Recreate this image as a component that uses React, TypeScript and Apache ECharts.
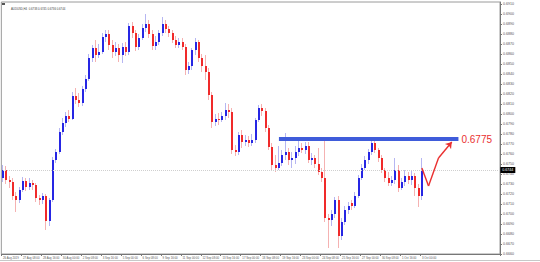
import React, { useEffect, useRef } from "react";
import * as echarts from "echarts";

const symbolTitle = "AUDUSD,H4  0.6738 0.6745 0.6736 0.6744";

const openPrices = [
  0.6736, 0.6744, 0.6734, 0.6732, 0.6718, 0.6714, 0.6724, 0.6733, 0.6727, 0.6731,
  0.6729, 0.6716, 0.6714, 0.6718, 0.6693, 0.6714, 0.6754, 0.6762, 0.6782, 0.6791,
  0.6798, 0.6795, 0.6818, 0.6814, 0.6811, 0.6825, 0.6835, 0.6856, 0.6866, 0.6859,
  0.6862, 0.6877, 0.6880, 0.6869, 0.6862, 0.6866, 0.6859, 0.6867, 0.6862, 0.6888,
  0.6881, 0.6867, 0.6876, 0.6886, 0.6890, 0.6880, 0.6868, 0.6872, 0.6881, 0.6890,
  0.6885, 0.6881, 0.6874, 0.6869, 0.6872, 0.6867, 0.6844, 0.6848, 0.6864, 0.6872,
  0.6856, 0.6848, 0.6842, 0.6819, 0.6792, 0.6795, 0.6794, 0.6798, 0.6804, 0.6802,
  0.6764, 0.6762, 0.6779, 0.6772, 0.6774, 0.6771, 0.6774, 0.6794, 0.6806, 0.6803,
  0.6786, 0.6767, 0.6749, 0.6746, 0.6751, 0.6759, 0.6762, 0.6754, 0.6756, 0.6762,
  0.6766, 0.6764, 0.6768, 0.6754, 0.6756, 0.6750, 0.6742, 0.6736, 0.6696, 0.6694,
  0.6700, 0.6714, 0.6678, 0.6692, 0.6704, 0.6711, 0.6708, 0.6718, 0.6736, 0.6746,
  0.6754, 0.6762, 0.6771, 0.6764, 0.6756, 0.6744, 0.6736, 0.6731, 0.6734, 0.6744,
  0.6726, 0.6732, 0.6738, 0.6734, 0.6738, 0.6726, 0.6718,
];

const closePrices = [
  0.6744, 0.6734, 0.6732, 0.6718, 0.6714, 0.6724, 0.6733, 0.6727, 0.6731, 0.6729,
  0.6716, 0.6714, 0.6718, 0.6693, 0.6714, 0.6754, 0.6762, 0.6782, 0.6791, 0.6798,
  0.6795, 0.6818, 0.6814, 0.6811, 0.6825, 0.6835, 0.6856, 0.6866, 0.6859, 0.6862,
  0.6877, 0.6880, 0.6869, 0.6862, 0.6866, 0.6859, 0.6867, 0.6862, 0.6888, 0.6881,
  0.6867, 0.6876, 0.6886, 0.6890, 0.6880, 0.6868, 0.6872, 0.6881, 0.6890, 0.6885,
  0.6881, 0.6874, 0.6869, 0.6872, 0.6867, 0.6844, 0.6848, 0.6864, 0.6872, 0.6856,
  0.6848, 0.6842, 0.6819, 0.6792, 0.6795, 0.6794, 0.6798, 0.6804, 0.6802, 0.6764,
  0.6762, 0.6779, 0.6772, 0.6774, 0.6771, 0.6774, 0.6794, 0.6806, 0.6803, 0.6786,
  0.6767, 0.6749, 0.6746, 0.6751, 0.6759, 0.6762, 0.6754, 0.6756, 0.6762, 0.6766,
  0.6764, 0.6768, 0.6754, 0.6756, 0.6750, 0.6742, 0.6736, 0.6696, 0.6694, 0.6700,
  0.6714, 0.6678, 0.6692, 0.6704, 0.6708, 0.6708, 0.6718, 0.6736, 0.6746, 0.6754,
  0.6762, 0.6771, 0.6764, 0.6756, 0.6744, 0.6736, 0.6731, 0.6734, 0.6744, 0.6726,
  0.6732, 0.6738, 0.6734, 0.6738, 0.6726, 0.6718, 0.6744,
];

const highPrices = [
  0.6749, 0.6748, 0.6738, 0.6736, 0.6722, 0.6727, 0.6737, 0.6736, 0.6736, 0.6734,
  0.6731, 0.6719, 0.6721, 0.6720, 0.6716, 0.6757, 0.6765, 0.6786, 0.6796, 0.6802,
  0.6804, 0.6822, 0.6826, 0.6821, 0.6828, 0.6839, 0.6860, 0.6869, 0.6874, 0.6870,
  0.6881, 0.6884, 0.6884, 0.6874, 0.6872, 0.6870, 0.6871, 0.6872, 0.6891, 0.6892,
  0.6884, 0.6880, 0.6890, 0.6900, 0.6894, 0.6884, 0.6878, 0.6884, 0.6897, 0.6894,
  0.6888, 0.6884, 0.6878, 0.6876, 0.6876, 0.6870, 0.6852, 0.6866, 0.6876, 0.6874,
  0.6860, 0.6859, 0.6846, 0.6822, 0.6800, 0.6801, 0.6802, 0.6811, 0.6810, 0.6806,
  0.6769, 0.6782, 0.6784, 0.6779, 0.6778, 0.6780, 0.6796, 0.6809, 0.6810, 0.6806,
  0.6789, 0.6771, 0.6759, 0.6768, 0.6764, 0.6781, 0.6766, 0.6762, 0.6768, 0.6774,
  0.6771, 0.6772, 0.6772, 0.6761, 0.6759, 0.6766, 0.6746, 0.6774, 0.6700, 0.6704,
  0.6717, 0.6718, 0.6696, 0.6708, 0.6712, 0.6714, 0.6722, 0.6739, 0.6750, 0.6758,
  0.6765, 0.6774, 0.6773, 0.6766, 0.6759, 0.6746, 0.6742, 0.6738, 0.6756, 0.6749,
  0.6736, 0.6744, 0.6742, 0.6744, 0.6741, 0.6730, 0.6756,
];

const lowPrices = [
  0.6732, 0.6730, 0.6726, 0.6714, 0.6702, 0.6711, 0.6722, 0.6723, 0.6724, 0.6724,
  0.6712, 0.6709, 0.6710, 0.6684, 0.6688, 0.6712, 0.6751, 0.6760, 0.6779, 0.6787,
  0.6792, 0.6794, 0.6810, 0.6807, 0.6808, 0.6822, 0.6833, 0.6852, 0.6852, 0.6856,
  0.6860, 0.6872, 0.6864, 0.6856, 0.6858, 0.6852, 0.6851, 0.6858, 0.6859, 0.6876,
  0.6863, 0.6864, 0.6874, 0.6882, 0.6876, 0.6864, 0.6864, 0.6869, 0.6878, 0.6881,
  0.6877, 0.6871, 0.6866, 0.6866, 0.6864, 0.6839, 0.6840, 0.6844, 0.6859, 0.6852,
  0.6842, 0.6834, 0.6814, 0.6786, 0.6788, 0.6789, 0.6792, 0.6794, 0.6796, 0.6760,
  0.6758, 0.6759, 0.6766, 0.6768, 0.6767, 0.6768, 0.6771, 0.6792, 0.6798, 0.6782,
  0.6764, 0.6744, 0.6742, 0.6744, 0.6748, 0.6754, 0.6749, 0.6746, 0.6750, 0.6758,
  0.6761, 0.6760, 0.6751, 0.6749, 0.6746, 0.6739, 0.6732, 0.6692, 0.6666, 0.6688,
  0.6696, 0.6666, 0.6674, 0.6689, 0.6700, 0.6704, 0.6706, 0.6716, 0.6734, 0.6744,
  0.6750, 0.6759, 0.6761, 0.6752, 0.6741, 0.6732, 0.6728, 0.6728, 0.6730, 0.6722,
  0.6724, 0.6728, 0.6730, 0.6729, 0.6718, 0.6707, 0.6714,
];

const totalSlots = 150;
const xTickLabels = [
  "26 Aug 2019", "27 Aug 08:00", "28 Aug 16:00", "30 Aug 00:00", "2 Sep 08:00",
  "3 Sep 16:00", "5 Sep 00:00", "6 Sep 08:00", "9 Sep 16:00", "11 Sep 00:00",
  "12 Sep 08:00", "13 Sep 16:00", "17 Sep 00:00", "18 Sep 08:00", "19 Sep 16:00",
  "23 Sep 00:00", "24 Sep 08:00", "25 Sep 16:00", "27 Sep 00:00", "30 Sep 08:00",
  "1 Oct 16:00", "3 Oct 00:00",
];
const labelEvery = 6;

const yMin = 0.666;
const yMax = 0.6912;
const yStep = 0.001;

const resistanceLevel = 0.6775;
const resistanceFrom = 83;
const resistanceTo = 137;
const bidPrice = 0.6744;
const arrowPath: [number, number][] = [
  [125.7, 0.6746],
  [127.8, 0.6728],
  [130.5, 0.6756],
  [134.7, 0.6772],
];

const BULL = "#2626e4";
const BEAR = "#f02a2a";
const BULL_WICK = "#b6b6f2";
const BEAR_WICK = "#f5b2b2";
const RED = "#ea3030";
const BAND = "#3f5cda";
const FONT = "Liberation Sans, Arial, sans-serif";

export default function App() {
  const ref = useRef<HTMLDivElement>(null);

  useEffect(() => {
    if (!ref.current) return;
    const chart = echarts.init(ref.current, undefined, { renderer: "svg" });

    const categories = Array.from({ length: totalSlots }, (_, i) => String(i));
    const candleData = openPrices.map((o, i) => [
      i,
      o,
      closePrices[i],
      lowPrices[i],
      highPrices[i],
    ]);
    const showLabel = (idx: number) =>
      idx % labelEvery === 0 && idx / labelEvery < xTickLabels.length;

    const arrowSegments = arrowPath.slice(0, -1).map((p, k) => [
      {
        coord: p,
        symbol: "none",
        lineStyle: { color: RED, width: 1.4, type: "solid" },
        label: { show: false },
      },
      {
        coord: arrowPath[k + 1],
        symbol: k === arrowPath.length - 2 ? "arrow" : "none",
        symbolSize: 6,
      },
    ]);

    chart.setOption({
      animation: false,
      backgroundColor: "#ffffff",
      title: {
        text: symbolTitle,
        left: 6,
        top: 2.5,
        textStyle: { fontSize: 2.8, color: "#444", fontWeight: "normal", fontFamily: FONT },
      },
      graphic: [
        {
          type: "rect",
          shape: { x: 2, y: 3, width: 3, height: 2 },
          style: { fill: "#555" },
        },
        {
          type: "rect",
          shape: { x: 0, y: 260, width: 540, height: 1 },
          style: { fill: "#c8c8c8" },
        },
      ],
      grid: {
        left: 1,
        right: 40,
        top: 2,
        bottom: 8,
        show: true,
        borderColor: "#9a9a9a",
        borderWidth: 1,
      },
      xAxis: {
        type: "category",
        data: categories,
        boundaryGap: true,
        axisLine: { show: true, lineStyle: { color: "#777", width: 1 } },
        axisTick: {
          show: true,
          interval: showLabel,
          length: 2,
          lineStyle: { color: "#777" },
        },
        axisLabel: {
          interval: showLabel,
          fontSize: 2.8,
          color: "#555",
          margin: 2,
          align: "left",
          fontFamily: FONT,
          formatter: (_v: string, idx: number) => xTickLabels[idx / labelEvery] ?? "",
        },
        splitLine: { show: false },
      },
      yAxis: {
        type: "value",
        position: "right",
        min: yMin,
        max: yMax,
        interval: yStep,
        axisLine: { show: true, lineStyle: { color: "#777", width: 1 } },
        axisTick: { show: true, length: 2, lineStyle: { color: "#777" } },
        axisLabel: {
          fontSize: 3.6,
          color: "#555",
          margin: 3,
          fontFamily: FONT,
          formatter: (v: number) => v.toFixed(4),
        },
        splitLine: { show: false },
      },
      series: [
        {
          type: "custom",
          encode: { x: 0, y: [1, 2, 3, 4] },
          data: candleData,
          renderItem: (_params: any, api: any) => {
            const i = api.value(0);
            const o = api.value(1);
            const c = api.value(2);
            const l = api.value(3);
            const h = api.value(4);
            const pO = api.coord([i, o]);
            const pC = api.coord([i, c]);
            const pL = api.coord([i, l]);
            const pH = api.coord([i, h]);
            const cx = Math.round(pO[0]);
            const up = c >= o;
            const top = Math.min(pO[1], pC[1]);
            const bot = Math.max(pO[1], pC[1]);
            return {
              type: "group",
              children: [
                {
                  type: "line",
                  shape: { x1: cx - 0.5, y1: pH[1], x2: cx - 0.5, y2: pL[1] },
                  style: { stroke: up ? BULL_WICK : BEAR_WICK, lineWidth: 1 },
                },
                {
                  type: "rect",
                  shape: { x: cx - 1, y: top, width: 2, height: Math.max(1, bot - top) },
                  style: { fill: up ? BULL : BEAR },
                },
              ],
            };
          },
          markLine: {
            silent: true,
            animation: false,
            symbol: "none",
            data: [
              [
                {
                  coord: [0, bidPrice],
                  symbol: "none",
                  lineStyle: { color: "#cfcfcf", type: [1, 1], width: 1 },
                  label: {
                    show: true,
                    position: "end",
                    distance: 2,
                    formatter: bidPrice.toFixed(4),
                    backgroundColor: "#000",
                    color: "#fff",
                    fontSize: 3.6,
                    padding: [1, 2],
                    fontFamily: FONT,
                  },
                },
                { coord: [totalSlots - 1, bidPrice], symbol: "none" },
              ],
              [
                {
                  coord: [resistanceFrom, resistanceLevel],
                  symbol: "none",
                  lineStyle: { color: BAND, width: 4, type: "solid" },
                  label: {
                    show: true,
                    position: "end",
                    distance: 3,
                    formatter: resistanceLevel.toFixed(4),
                    color: RED,
                    fontSize: 10,
                    fontFamily: FONT,
                  },
                },
                { coord: [resistanceTo, resistanceLevel], symbol: "none" },
              ],
              ...arrowSegments,
            ],
          },
        },
      ],
    });

    return () => chart.dispose();
  }, []);

  return (
    <div
      ref={ref}
      style={{ position: "fixed", left: 0, top: 0, width: 540, height: 262 }}
    />
  );
}
